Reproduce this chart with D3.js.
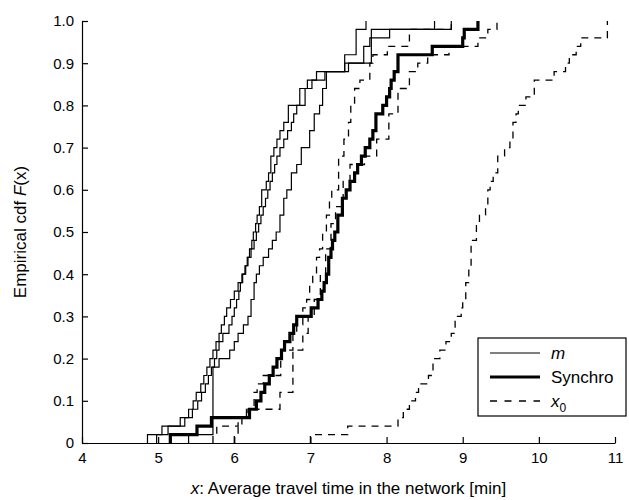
<!DOCTYPE html>
<html>
<head>
<meta charset="utf-8">
<script src="https://cdn.jsdelivr.net/npm/d3@7.9.0/dist/d3.min.js"></script>
<style>
  body { margin: 0; background: #fff; }
  svg { font-family: "Liberation Sans", Arial, sans-serif; }
</style>
</head>
<body>
<div id="chart"></div>
<script>
// axis ticks
const xTicks = [4, 5, 6, 7, 8, 9, 10, 11];
const yTicks = [0, 0.1, 0.2, 0.3, 0.4, 0.5, 0.6, 0.7, 0.8, 0.9, 1.0];

// empirical cdf steps: jump location x -> new F(x)
// thin solid curves (m)
const mA_x = [4.86, 5.13, 5.29, 5.40, 5.46, 5.50, 5.56, 5.60, 5.64, 5.68, 5.72, 5.76, 5.80, 5.83, 5.87, 5.90, 5.95, 6.00, 6.05, 6.10, 6.14, 6.17, 6.20, 6.23, 6.25, 6.28, 6.30, 6.33, 6.36, 6.42, 6.45, 6.48, 6.52, 6.56, 6.60, 6.65, 6.71, 6.86, 6.96, 7.08, 7.45, 7.60, 7.73];
const mA_F = [0.02, 0.04, 0.06, 0.08, 0.10, 0.12, 0.14, 0.16, 0.18, 0.20, 0.22, 0.24, 0.26, 0.28, 0.30, 0.32, 0.34, 0.36, 0.38, 0.40, 0.42, 0.44, 0.46, 0.48, 0.50, 0.52, 0.54, 0.56, 0.60, 0.62, 0.64, 0.68, 0.70, 0.72, 0.74, 0.76, 0.80, 0.84, 0.86, 0.88, 0.92, 0.98, 1.00];

const mB_x = [4.98, 5.05, 5.35, 5.45, 5.52, 5.57, 5.62, 5.66, 5.70, 5.74, 5.77, 5.80, 5.85, 5.93, 5.97, 6.00, 6.03, 6.06, 6.08, 6.11, 6.15, 6.18, 6.22, 6.26, 6.29, 6.32, 6.35, 6.38, 6.41, 6.44, 6.47, 6.50, 6.53, 6.56, 6.60, 6.65, 6.70, 6.75, 6.78, 6.82, 6.93, 7.02, 7.19, 7.45, 7.70, 7.78, 7.80, 8.63];
const mB_F = [0.02, 0.04, 0.06, 0.08, 0.10, 0.12, 0.14, 0.16, 0.18, 0.20, 0.22, 0.24, 0.26, 0.28, 0.30, 0.32, 0.34, 0.36, 0.38, 0.40, 0.42, 0.44, 0.46, 0.48, 0.50, 0.52, 0.54, 0.56, 0.58, 0.60, 0.62, 0.64, 0.66, 0.68, 0.70, 0.72, 0.74, 0.76, 0.78, 0.80, 0.84, 0.86, 0.88, 0.90, 0.94, 0.96, 0.98, 1.00];

const mC_x = [5.40, 5.72, 5.80, 5.94, 6.00, 6.05, 6.12, 6.18, 6.22, 6.26, 6.29, 6.33, 6.38, 6.45, 6.50, 6.55, 6.60, 6.65, 6.69, 6.75, 6.82, 6.88, 6.99, 7.05, 7.12, 7.16, 7.21, 7.50, 7.80, 8.04, 8.85];
const mC_F = [0.02, 0.18, 0.20, 0.22, 0.24, 0.26, 0.28, 0.30, 0.34, 0.38, 0.40, 0.42, 0.44, 0.46, 0.48, 0.50, 0.54, 0.58, 0.60, 0.64, 0.66, 0.70, 0.74, 0.78, 0.80, 0.84, 0.88, 0.90, 0.96, 0.98, 1.00];

// thick solid curve (Synchro)
const syn_x = [5.16, 5.51, 5.70, 6.20, 6.29, 6.35, 6.40, 6.46, 6.51, 6.56, 6.62, 6.66, 6.73, 6.78, 6.82, 7.01, 7.10, 7.15, 7.18, 7.21, 7.24, 7.27, 7.29, 7.32, 7.36, 7.42, 7.47, 7.52, 7.58, 7.62, 7.67, 7.72, 7.78, 7.82, 7.86, 7.95, 8.00, 8.04, 8.06, 8.10, 8.15, 8.60, 9.00, 9.02, 9.20];
const syn_F = [0.02, 0.04, 0.06, 0.08, 0.10, 0.12, 0.14, 0.16, 0.18, 0.20, 0.22, 0.24, 0.26, 0.28, 0.30, 0.32, 0.34, 0.36, 0.38, 0.40, 0.44, 0.46, 0.48, 0.50, 0.54, 0.58, 0.60, 0.62, 0.64, 0.66, 0.68, 0.70, 0.72, 0.74, 0.78, 0.80, 0.82, 0.84, 0.86, 0.88, 0.92, 0.94, 0.96, 0.98, 1.00];

// dashed curves (x0)
const xA_x = [5.72, 5.77, 6.05, 6.18, 6.26, 6.30, 6.38, 6.61, 6.77, 6.82, 6.90, 6.95, 6.99, 7.03, 7.08, 7.12, 7.16, 7.21, 7.25, 7.28, 7.37, 7.44, 7.50, 7.53, 7.58, 7.65, 7.78, 7.82, 8.01, 8.30, 8.85];
const xA_F = [0.02, 0.04, 0.06, 0.08, 0.12, 0.14, 0.16, 0.22, 0.26, 0.28, 0.32, 0.34, 0.38, 0.40, 0.44, 0.46, 0.50, 0.54, 0.58, 0.60, 0.68, 0.72, 0.76, 0.80, 0.84, 0.86, 0.90, 0.92, 0.94, 0.98, 1.00];

const xB_x = [6.00, 6.05, 6.10, 6.16, 6.60, 6.77, 6.90, 6.97, 7.05, 7.13, 7.20, 7.27, 7.33, 7.43, 7.52, 7.71, 7.87, 8.03, 8.15, 8.30, 8.41, 8.54, 8.82, 9.20, 9.33, 9.45];
const xB_F = [0.02, 0.04, 0.06, 0.08, 0.12, 0.22, 0.26, 0.30, 0.34, 0.40, 0.46, 0.52, 0.56, 0.62, 0.66, 0.68, 0.72, 0.78, 0.84, 0.88, 0.90, 0.92, 0.94, 0.96, 0.98, 1.00];

const xC_x = [7.00, 7.49, 8.15, 8.22, 8.30, 8.38, 8.42, 8.55, 8.61, 8.70, 8.78, 8.85, 8.90, 8.98, 9.00, 9.04, 9.08, 9.11, 9.18, 9.22, 9.30, 9.33, 9.36, 9.40, 9.46, 9.55, 9.62, 9.66, 9.70, 9.73, 9.83, 9.94, 10.20, 10.35, 10.40, 10.49, 10.55, 10.90];
const xC_F = [0.02, 0.04, 0.06, 0.08, 0.10, 0.12, 0.14, 0.16, 0.20, 0.22, 0.24, 0.26, 0.30, 0.32, 0.34, 0.38, 0.42, 0.48, 0.52, 0.54, 0.56, 0.60, 0.62, 0.64, 0.68, 0.70, 0.72, 0.76, 0.78, 0.80, 0.82, 0.86, 0.88, 0.90, 0.92, 0.94, 0.96, 1.00];

const series = [
  { name: 'x0', xs: xA_x, fs: xA_F, width: 1.3, dash: '7,6' },
  { name: 'x0', xs: xB_x, fs: xB_F, width: 1.3, dash: '7,6' },
  { name: 'x0', xs: xC_x, fs: xC_F, width: 1.3, dash: '7,6' },
  { name: 'm', xs: mA_x, fs: mA_F, width: 1.2, dash: null },
  { name: 'm', xs: mB_x, fs: mB_F, width: 1.2, dash: null },
  { name: 'm', xs: mC_x, fs: mC_F, width: 1.2, dash: null },
  { name: 'Synchro', xs: syn_x, fs: syn_F, width: 3.2, dash: null },
];

const width = 629;
const height = 500;
const margin = { top: 21, right: 14, bottom: 57, left: 82 };

const svg = d3.select('#chart').append('svg')
  .attr('width', width)
  .attr('height', height);

const xScale = d3.scaleLinear()
  .domain([4, 11])
  .range([margin.left, width - margin.right]);

const yScale = d3.scaleLinear()
  .domain([0, 1])
  .range([height - margin.bottom, margin.top]);

// axes with inward ticks, no outer ticks
const xAxis = d3.axisBottom(xScale).tickValues(xTicks).tickSize(-6).tickSizeOuter(0).tickPadding(9)
  .tickFormat(d3.format('d'));
const yAxis = d3.axisLeft(yScale).tickValues(yTicks).tickSize(-6).tickSizeOuter(0).tickPadding(8)
  .tickFormat(d => d === 0 ? '0' : d.toFixed(1));

const gx = svg.append('g')
  .attr('transform', `translate(0, ${height - margin.bottom})`)
  .call(xAxis);
const gy = svg.append('g')
  .attr('transform', `translate(${margin.left}, 0)`)
  .call(yAxis);

[gx, gy].forEach(g => {
  g.selectAll('path, line').attr('stroke', '#000').attr('stroke-width', 1.2);
  g.selectAll('text').attr('fill', '#000').style('font-size', '15px');
});

// step lines
const line = d3.line()
  .x(d => xScale(d[0]))
  .y(d => yScale(d[1]))
  .curve(d3.curveStepAfter);

series.forEach(s => {
  const pts = [[s.xs[0], 0]].concat(s.xs.map((x, i) => [x, s.fs[i]]));
  svg.append('path')
    .datum(pts)
    .attr('d', line)
    .attr('fill', 'none')
    .attr('stroke', '#000')
    .attr('stroke-width', s.width)
    .attr('stroke-dasharray', s.dash);
});

// axis titles
const xt = svg.append('text')
  .attr('x', (margin.left + width - margin.right) / 2)
  .attr('y', 494)
  .attr('text-anchor', 'middle')
  .style('font-size', '17px');
xt.append('tspan').attr('font-style', 'italic').text('x');
xt.append('tspan').text(': Average travel time in the network [min]');

const yt = svg.append('text')
  .attr('transform', `translate(26, ${(margin.top + height - margin.bottom) / 2}) rotate(-90)`)
  .attr('text-anchor', 'middle')
  .style('font-size', '17px');
yt.append('tspan').text('Empirical cdf ');
yt.append('tspan').attr('font-style', 'italic').text('F');
yt.append('tspan').text('(x)');

// legend
const legendItems = [
  { label: 'm', width: 1.2, dash: null },
  { label: 'Synchro', width: 3.2, dash: null },
  { label: 'x0', width: 1.3, dash: '7,7.5' },
];
const lg = svg.append('g').attr('transform', 'translate(478, 338)');
lg.append('rect')
  .attr('width', 148).attr('height', 78)
  .attr('fill', '#fff').attr('stroke', '#000').attr('stroke-width', 1.2);

legendItems.forEach((d, i) => {
  const yy = 15 + i * 24;
  lg.append('line')
    .attr('x1', 12).attr('x2', 62)
    .attr('y1', yy).attr('y2', yy)
    .attr('stroke', '#000')
    .attr('stroke-width', d.width)
    .attr('stroke-dasharray', d.dash);
  const t = lg.append('text')
    .attr('x', 73).attr('y', yy + 6)
    .style('font-size', '17px');
  if (d.label === 'm') {
    t.append('tspan').attr('font-style', 'italic').text('m');
  } else if (d.label === 'x0') {
    t.append('tspan').attr('font-style', 'italic').text('x');
    t.append('tspan').attr('dy', 5).style('font-size', '12px').text('0');
  } else {
    t.text(d.label);
  }
});
</script>
</body>
</html>
